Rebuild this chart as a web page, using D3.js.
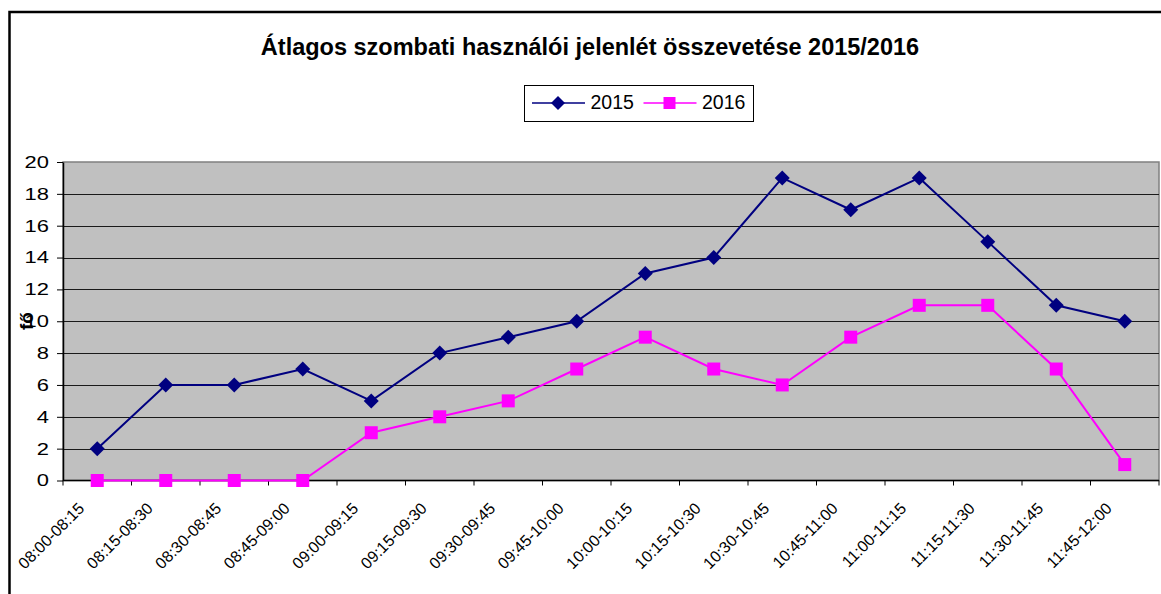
<!DOCTYPE html>
<html>
<head>
<meta charset="utf-8">
<script src="https://cdn.jsdelivr.net/npm/d3@7"></script>
<style>
  body { margin: 0; background: #fff; }
  svg { display: block; font-family: "Liberation Sans", Arial, sans-serif; }
</style>
</head>
<body>
<div id="chart"></div>
<script>
const categories = ["08:00-08:15", "08:15-08:30", "08:30-08:45", "08:45-09:00", "09:00-09:15",
  "09:15-09:30", "09:30-09:45", "09:45-10:00", "10:00-10:15", "10:15-10:30", "10:30-10:45",
  "10:45-11:00", "11:00-11:15", "11:15-11:30", "11:30-11:45", "11:45-12:00"];
const values2015 = [2, 6, 6, 7, 5, 8, 9, 10, 13, 14, 19, 17, 19, 15, 11, 10];
const values2016 = [0, 0, 0, 0, 3, 4, 5, 7, 9, 7, 6, 9, 11, 11, 7, 1];
const yTicks = [0, 2, 4, 6, 8, 10, 12, 14, 16, 18, 20];

const W = 1161, H = 594;
const plot = { left: 63, right: 1159, top: 162, bottom: 480.5 };

const svg = d3.select("#chart").append("svg")
  .attr("width", W).attr("height", H);

// outer chart frame
svg.append("rect")
  .attr("x", 9.5).attr("y", 12)
  .attr("width", W + 20).attr("height", H + 20)
  .attr("fill", "#fff").attr("stroke", "#000").attr("stroke-width", 2.5);

const x = d3.scaleBand().domain(categories).range([plot.left, plot.right]);
const y = d3.scaleLinear().domain([0, 20]).range([plot.bottom, plot.top]);

// plot background
svg.append("rect")
  .attr("x", plot.left).attr("y", plot.top)
  .attr("width", plot.right - plot.left).attr("height", plot.bottom - plot.top)
  .attr("fill", "#C0C0C0").attr("stroke", "#808080").attr("stroke-width", 1.5);

// gridlines
svg.append("g").selectAll("line")
  .data(yTicks.filter(d => d > 0 && d < 20))
  .join("line")
  .attr("x1", plot.left).attr("x2", plot.right)
  .attr("y1", d => Math.round(y(d)) + 0.5).attr("y2", d => Math.round(y(d)) + 0.5)
  .attr("stroke", "#1a1a1a").attr("stroke-width", 1);

// y axis
const yAxis = svg.append("g")
  .attr("transform", `translate(${plot.left},0)`)
  .call(d3.axisLeft(y).tickValues(yTicks).tickSize(6).tickSizeOuter(0).tickFormat(""));
yAxis.select(".domain").attr("stroke", "#000").attr("stroke-width", 1.5);
yAxis.selectAll(".tick line").attr("stroke", "#000");
// tick labels are stretched horizontally in the original
svg.append("g").selectAll("text").data(yTicks).join("text")
  .attr("transform", d => `translate(49,${y(d)}) scale(1.33,1)`)
  .attr("dy", "0.36em")
  .attr("text-anchor", "end")
  .attr("font-size", 16.5).attr("fill", "#000")
  .text(d => d);

// x axis (ticks at category boundaries)
const xAxisG = svg.append("g").attr("transform", `translate(0,${plot.bottom})`);
xAxisG.append("line")
  .attr("x1", plot.left).attr("x2", plot.right)
  .attr("stroke", "#000").attr("stroke-width", 1.5);
const bounds = d3.range(categories.length + 1).map(i => plot.left + i * x.step());
xAxisG.selectAll("line.tk").data(bounds).join("line")
  .attr("class", "tk")
  .attr("x1", d => d).attr("x2", d => d)
  .attr("y1", 0).attr("y2", 5)
  .attr("stroke", "#000");
xAxisG.selectAll("text").data(categories).join("text")
  .attr("transform", d => `translate(${x(d) + x.bandwidth() / 2 - 12},${29}) rotate(-45)`)
  .attr("text-anchor", "end")
  .attr("font-size", 16)
  .attr("fill", "#000")
  .text(d => d);

// y label
svg.append("text")
  .attr("transform", `translate(33,321) rotate(-90)`)
  .attr("text-anchor", "middle")
  .attr("font-size", 19).attr("font-weight", "bold")
  .text("fő");

// title
svg.append("text")
  .attr("x", 590).attr("y", 55)
  .attr("text-anchor", "middle")
  .attr("font-size", 23.5).attr("font-weight", "bold")
  .text("Átlagos szombati használói jelenlét összevetése 2015/2016");

const cx = d => x(d) + x.bandwidth() / 2;
const line = d3.line().x((d, i) => cx(categories[i])).y(d => y(d));

const diamond = s => `M0,${-s}L${s},0L0,${s}L${-s},0Z`;

// series 2015
svg.append("path").datum(values2015)
  .attr("d", line).attr("fill", "none")
  .attr("stroke", "#000080").attr("stroke-width", 2);
svg.append("g").selectAll("path").data(values2015).join("path")
  .attr("transform", (d, i) => `translate(${cx(categories[i])},${y(d)})`)
  .attr("d", diamond(7.5)).attr("fill", "#000080");

// series 2016
svg.append("path").datum(values2016)
  .attr("d", line).attr("fill", "none")
  .attr("stroke", "#FF00FF").attr("stroke-width", 2);
svg.append("g").selectAll("rect").data(values2016).join("rect")
  .attr("x", (d, i) => cx(categories[i]) - 6.5)
  .attr("y", d => y(d) - 6.5)
  .attr("width", 13).attr("height", 13)
  .attr("fill", "#FF00FF");

// legend
const lg = svg.append("g");
lg.append("rect")
  .attr("x", 524.5).attr("y", 85.5).attr("width", 229).attr("height", 36)
  .attr("fill", "#fff").attr("stroke", "#000").attr("stroke-width", 1);
const legendItems = [
  { name: "2015", color: "#000080", x0: 532, shape: "diamond" },
  { name: "2016", color: "#FF00FF", x0: 643.5, shape: "square" }
];
legendItems.forEach(it => {
  lg.append("line")
    .attr("x1", it.x0).attr("x2", it.x0 + 53)
    .attr("y1", 103).attr("y2", 103)
    .attr("stroke", it.color).attr("stroke-width", 1.5);
  if (it.shape === "diamond") {
    lg.append("path")
      .attr("transform", `translate(${it.x0 + 26},103)`)
      .attr("d", diamond(7)).attr("fill", it.color);
  } else {
    lg.append("rect")
      .attr("x", it.x0 + 20).attr("y", 97).attr("width", 12).attr("height", 12)
      .attr("fill", it.color);
  }
  lg.append("text")
    .attr("x", it.x0 + 58.5).attr("y", 109)
    .attr("font-size", 19.5).attr("fill", "#000")
    .text(it.name);
});
</script>
</body>
</html>
